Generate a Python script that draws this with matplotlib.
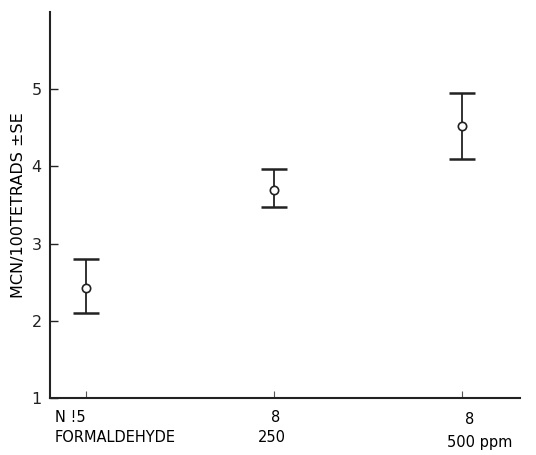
import matplotlib
matplotlib.use("Agg")
import matplotlib.pyplot as plt
import numpy as np

# Data
groups = ['N !5\nFORMALDEHYDE', '8\n250', '8\n500 ppm']
mean_mcn = [2.43, 3.70, 4.52]
upper = [2.80, 3.97, 4.95]
lower = [2.10, 3.47, 4.10]
yticks = [1, 2, 3, 4, 5]

x = np.arange(len(groups))
err_lo = np.array(mean_mcn) - np.array(lower)
err_hi = np.array(upper) - np.array(mean_mcn)

fig = plt.figure(figsize=(5.36, 4.55), dpi=100)
ax = fig.add_axes([0.093, 0.125, 0.877, 0.849])

ax.errorbar(x, mean_mcn, yerr=[err_lo, err_hi], fmt='none', ecolor='#222222',
            elinewidth=1.3, capsize=9.5, capthick=1.8, zorder=2)
ax.plot(x, mean_mcn, 'o', ms=6, mfc='white', mec='#222222', mew=1.2, zorder=3)

ax.set_xlim(-0.19, 2.31)
ax.set_ylim(1, 6)
ax.set_yticks(yticks)
ax.set_yticklabels([str(t) for t in yticks], fontsize=11.5)
ax.set_xticks(x)
ax.set_xticklabels([])
ax.tick_params(axis='y', direction='in', length=6, width=1, pad=6, colors='#222222')
ax.tick_params(axis='x', direction='in', length=5, width=0.8, colors='#555555')

for s in ['top', 'right']:
    ax.spines[s].set_visible(False)
for s in ['left', 'bottom']:
    ax.spines[s].set_linewidth(1.5)
    ax.spines[s].set_color('#222222')

ax.set_ylabel('MCN/100TETRADS \u00b1SE', fontsize=11.5, labelpad=4)

# x labels (two lines per group)
fig.text(55 / 536, 1 - 418 / 455, 'N !5', fontsize=10.5, ha='left', va='center')
fig.text(55 / 536, 1 - 438 / 455, 'FORMALDEHYDE', fontsize=10.5, ha='left', va='center')
fig.text(276 / 536, 1 - 418 / 455, '8', fontsize=10.5, ha='center', va='center')
fig.text(272 / 536, 1 - 438 / 455, '250', fontsize=10.5, ha='center', va='center')
fig.text(470 / 536, 1 - 420 / 455, '8', fontsize=10.5, ha='center', va='center')
fig.text(480 / 536, 1 - 443 / 455, '500 ppm', fontsize=10.5, ha='center', va='center')

fig.savefig('out.png', dpi=100)
